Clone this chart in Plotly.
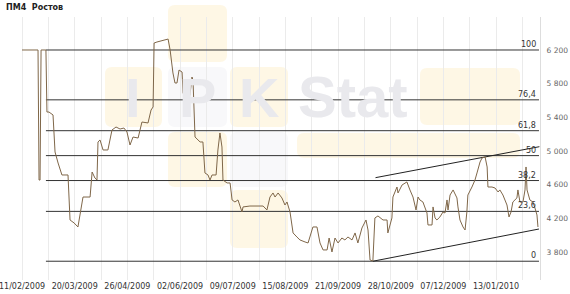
import plotly.graph_objects as go

# ---------------- data ----------------
title_text = "ПМ4  Ростов"

# trading-day index (x) and price (y)
day_idx = [0, 7.9, 8.4, 8.9, 9.4, 11.8, 12.3, 13.3, 15.3, 16.3, 17.8, 19.7, 22.7, 23.7, 25.7, 27.6,
           30.1, 33.6, 34.6, 36.0, 37.0, 37.5, 38.5, 40.0, 42.4, 44.4, 46.4, 48.4, 50.3, 51.8, 53.3,
           54.8, 57.3, 59.2, 62.2, 63.7, 64.7, 65.2, 66.6, 69.6, 72.1, 73.1, 74.0, 74.5, 75.5, 76.5,
           77.5, 79.0, 79.5, 81.4, 82.9, 83.9, 84.4, 85.4, 87.9, 89.3, 90.3, 91.8, 92.8, 93.8, 95.8,
           96.7, 97.7, 98.7, 99.2, 101.2, 102.7, 103.7, 105.1, 106.6, 108.6, 109.1, 112.5, 119.0,
           120.9, 122.4, 123.9, 124.9, 126.4, 128.3, 129.8, 130.8, 132.3, 133.8, 135.7, 137.2, 139.7,
           141.2, 142.1, 143.6, 145.6, 147.1, 148.6, 150.6, 151.6, 153.0, 154.5, 156.0, 157.9, 159.4,
           160.9, 162.9, 164.4, 165.8, 167.8, 169.8, 170.8, 171.8, 173.2, 174.2, 175.7, 178.2, 180.2,
           180.6, 182.6, 183.1, 185.1, 185.6, 187.6, 190.0, 191.5, 193.0, 194.5, 195.5, 196.4, 197.9,
           199.9, 200.4, 202.4, 202.9, 203.9, 204.8, 206.3, 207.8, 208.8, 209.8, 210.3, 211.3, 212.8,
           214.7, 215.2, 216.2, 217.7, 218.7, 219.6, 220.1, 222.1, 223.6, 224.6, 226.1, 227.1, 228.6,
           229.6, 230.0, 232.0, 233.5, 235.0, 235.9, 237.4, 239.4, 240.4, 241.4, 242.3, 244.3, 244.8,
           245.8, 247.3, 248.3, 248.8, 249.3, 250.7, 252.2, 253.2, 254.2, 254.7]
price = [6200, 6200, 4655, 4655, 6200, 6200, 5463, 5463, 5428, 4988, 4857, 4715, 4715, 4180, 4145, 4097,
         4453, 4453, 4750, 4679, 4655, 5107, 5131, 5012, 5012, 5249, 5285, 5261, 5273, 5226, 5071,
         5166, 5154, 5344, 5333, 5487, 5523, 6283, 6295, 6319, 6330, 6200, 5998, 5927, 5808, 5808,
         5962, 5938, 5689, 5606, 5665, 5879, 5843, 5166, 5107, 5107, 4739, 4715, 4655, 4715, 4715,
         5012, 5214, 5047, 4655, 4620, 4620, 4418, 4394, 4418, 4275, 4335, 4346, 4346,
         4299, 4453, 4501, 4453, 4501, 4442, 4358, 4394, 4275, 4026, 3978, 3943, 3919,
         3907, 3978, 4097, 4097, 3907, 3824, 3824, 3966, 3800, 3966, 3907, 3966, 3943,
         3978, 3943, 4026, 3907, 4085, 4180, 4061, 3705, 3693, 4204, 4228, 4180, 4180,
         4026, 4204, 4453, 4572, 4501, 4596, 4632, 4537, 4453, 4299, 4453, 4418, 4394,
         4263, 4121, 4121, 4335, 4204, 4180, 4216, 4275, 4263, 4418, 4299, 4477, 4537,
         4442, 4335, 4180, 4097, 4061, 4275, 4477, 4572, 4655, 4739, 4869, 4917, 4929,
         4810, 4572, 4572, 4560, 4513, 4537, 4477, 4358, 4216, 4275, 4394, 4442, 4537,
         4394, 4394, 4537, 4810, 4537, 4418, 4394, 4323, 4240, 4097]

# Fibonacci retracement
fib_high = 6200
fib_low = 3690
fib_pcts = [100, 76.4, 61.8, 50, 38.2, 23.6, 0]
fib_x = [11.8, 255.2]

# trend channel
trend_upper_x = [174.5, 255.4]
trend_upper_y = [4683, 5051]
trend_lower_x = [173.2, 255.2]
trend_lower_y = [3690, 4073]

# axes
x_tick_step = 13
x_labels = ["11/02/2009", "20/03/2009", "26/04/2009", "02/06/2009", "09/07/2009",
            "15/08/2009", "21/09/2009", "28/10/2009", "07/12/2009", "13/01/2010"]
y_ticks = [3800, 4200, 4600, 5000, 5400, 5800, 6200]
x_range = [-1, 255.7]
y_range = [3467, 6592]

# ---------------- figure ----------------
W, H = 570, 294
ML, MR, MT, MB = 20, 30, 17, 14
PW, PH = W - ML - MR, H - MT - MB


def px_x(px):
    return (px - ML) / PW


def px_y(py):
    return (H - MB - py) / PH


def rrect(x0, y0, x1, y1, r=7):
    rx, ry = r / PW, r / PH
    a, b, c, d = px_x(x0), px_y(y1), px_x(x1), px_y(y0)
    return (f"M {a+rx},{b} L {c-rx},{b} Q {c},{b} {c},{b+ry} L {c},{d-ry} Q {c},{d} {c-rx},{d} "
            f"L {a+rx},{d} Q {a},{d} {a},{d-ry} L {a},{b+ry} Q {a},{b} {a+rx},{b} Z")


fig = go.Figure()

# Fibonacci level lines
for p in fib_pcts:
    lvl = fib_low + (fib_high - fib_low) * p / 100
    fig.add_trace(go.Scatter(x=fib_x, y=[lvl, lvl], mode="lines",
                             line=dict(color="#333333", width=1), hoverinfo="skip", showlegend=False))
    fig.add_annotation(x=px_x(537), xref="paper", y=lvl, yref="y", xanchor="right", yanchor="bottom",
                       text=(f"{p:g}").replace(".", ","), showarrow=False, borderpad=0,
                       font=dict(family="DejaVu Sans", size=8, color="#333333"))

# trend lines
fig.add_trace(go.Scatter(x=trend_upper_x, y=trend_upper_y, mode="lines",
                         line=dict(color="#222222", width=1), hoverinfo="skip", showlegend=False))
fig.add_trace(go.Scatter(x=trend_lower_x, y=trend_lower_y, mode="lines",
                         line=dict(color="#222222", width=1), hoverinfo="skip", showlegend=False))

# price line
fig.add_trace(go.Scatter(x=day_idx, y=price, mode="lines",
                         line=dict(color="#7f6749", width=1), showlegend=False))

# watermark (background logo)
yellow = "#FEF7E5"
pale = "#F8F8FA"
boxes = [
    (105, 67, 162, 127, yellow), (168, 67, 227, 127, pale), (230, 67, 288, 127, yellow),
    (168, 5, 227, 62, yellow), (168, 132, 227, 187, yellow), (230, 132, 288, 187, pale),
    (230, 190, 288, 248, yellow), (297, 133, 520, 158, yellow), (420, 68, 520, 125, yellow),
]
for x0, y0, x1, y1, col in boxes:
    fig.add_shape(type="path", path=rrect(x0, y0, x1, y1), xref="paper", yref="paper",
                  fillcolor=col, line=dict(width=0), layer="below")
for txt, cx, cy, sz in [("I", 133, 97, 56), ("P", 197, 97, 56), ("K", 259, 97, 56), ("Stat", 353, 96, 58)]:
    fig.add_annotation(x=px_x(cx), y=px_y(cy), xref="paper", yref="paper", text=f"<b>{txt}</b>",
                       showarrow=False, xanchor="center", yanchor="middle",
                       font=dict(family="Liberation Sans", size=sz, color="#E9E9ED"))

# title
fig.add_annotation(x=px_x(4), y=px_y(1), xref="paper", yref="paper", xanchor="left", yanchor="top",
                   text=f"<b>{title_text}</b>", showarrow=False,
                   font=dict(family="DejaVu Sans", size=8, color="#222222"))

tickvals = list(range(0, 256, x_tick_step))
ticktext = [x_labels[i // 2] if i % 2 == 0 and i // 2 < len(x_labels) else "" for i in range(len(tickvals))]

fig.update_layout(
    width=W, height=H,
    margin=dict(l=ML, r=MR, t=MT, b=MB, pad=0, autoexpand=False),
    paper_bgcolor="white", plot_bgcolor="rgba(0,0,0,0)",
    xaxis=dict(range=x_range, tickmode="array", tickvals=tickvals, ticktext=ticktext,
               showgrid=True, gridcolor="#EBEBEB", gridwidth=1, zeroline=False, showline=False,
               ticks="", ticklabeloverflow="allow", automargin=False,
               tickfont=dict(family="DejaVu Sans", size=8, color="#333333")),
    yaxis=dict(range=y_range, side="right", tickmode="array", tickvals=y_ticks,
               ticktext=[f"{v:,}".replace(",", " ") for v in y_ticks],
               showgrid=False, zeroline=False, showline=True, linecolor="#DDDDDD", linewidth=1,
               ticks="", ticklabelstandoff=4, automargin=False,
               tickfont=dict(family="DejaVu Sans", size=7.5, color="#666666")),
)

fig.write_html("out.html", config={"displayModeBar": False})
